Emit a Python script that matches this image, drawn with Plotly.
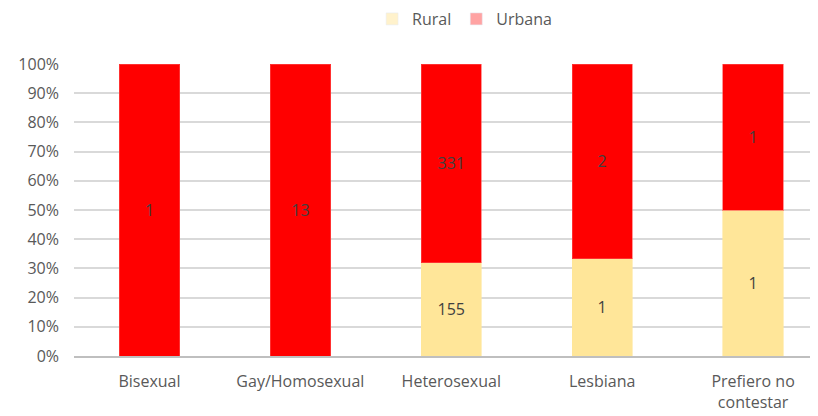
import plotly.graph_objects as go

categories = ["Bisexual", "Gay/Homosexual", "Heterosexual", "Lesbiana", "Prefiero no<br>contestar"]
rural = [0, 0, 155, 1, 1]
urbana = [1, 13, 331, 2, 1]
y_ticks = list(range(0, 101, 10))
y_tick_labels = [f"{v}%" for v in y_ticks]

font_family = "Open Sans, Noto Sans, sans-serif"
rural_color = "#FFE699"
urbana_color = "#FF0000"

def lbl(vals):
    return [str(v) if v else "" for v in vals]

fig = go.Figure()
fig.add_trace(go.Bar(
    x=categories, y=rural, name="Rural", showlegend=False,
    marker=dict(color=rural_color, line=dict(color="rgba(255,230,153,0.6)", width=1)),
    text=lbl(rural), textposition="inside", insidetextanchor="middle",
    textfont=dict(color="#404040", size=16, family=font_family),
))
fig.add_trace(go.Bar(
    x=categories, y=urbana, name="Urbana", showlegend=False,
    marker=dict(color=urbana_color, line=dict(color="rgba(255,80,80,0.6)", width=1)),
    text=lbl(urbana), textposition="inside", insidetextanchor="middle",
    textfont=dict(color="#404040", size=16, family=font_family),
))
# legend-only entries (pale swatches as in the reference)
fig.add_trace(go.Bar(x=[categories[0]], y=[None], name="Rural",
                     marker=dict(color="#FFF2CC")))
fig.add_trace(go.Bar(x=[categories[0]], y=[None], name="Urbana",
                     marker=dict(color="#FFA3A3")))

fig.update_traces(textangle=0, cliponaxis=False)
fig.update_layout(
    barmode="stack", barnorm="percent", bargap=0.6,
    width=810, height=408,
    margin=dict(l=66, r=0, t=56, b=60, autoexpand=False),
    paper_bgcolor="white", plot_bgcolor="white",
    font=dict(family=font_family, color="#595959", size=16),
    showlegend=True,
    legend=dict(orientation="h", x=0.525, xanchor="center",
                yref="container", y=1 - 11 / 408, yanchor="middle",
                font=dict(size=16, color="#595959"), traceorder="normal",
                itemwidth=30),
)
fig.update_xaxes(
    range=[-0.5, 4.43], showline=True, linecolor="#BFBFBF", linewidth=2,
    ticks="", tickfont=dict(size=16, color="#595959"), showgrid=False,
    automargin=False, ticklabelstandoff=10,
)
fig.update_yaxes(
    range=[0, 100], tickvals=y_ticks, ticktext=y_tick_labels,
    showgrid=True, gridcolor="#D9D9D9", gridwidth=1.5, zeroline=False,
    ticks="", tickfont=dict(size=16, color="#595959"), showline=False,
    automargin=False, ticklabelstandoff=14,
)
fig.write_html("out.html")
